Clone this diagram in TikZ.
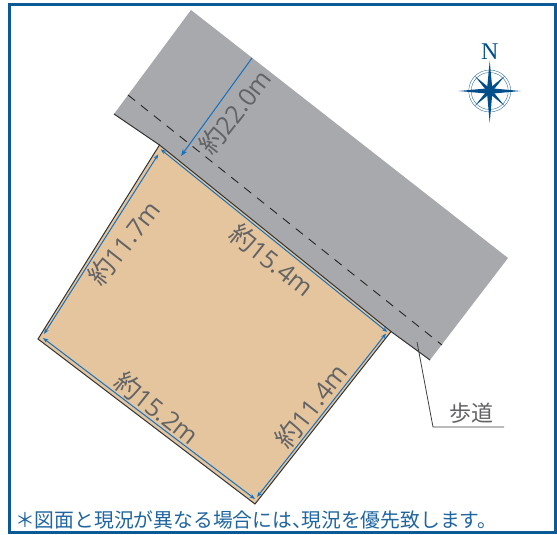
\documentclass[tikz,border=0pt]{standalone}
\usepackage{fontspec}
\setmainfont{Noto Sans CJK JP}
\newfontfamily\nfont{Liberation Serif}
\newfontfamily\latf[Scale=0.96]{Open Sans}
\newcommand{\approxlen}[1]{約{\latf #1}}
\usetikzlibrary{arrows.meta}
\definecolor{frameblue}{HTML}{0B5A96}
\definecolor{notetext}{HTML}{1F65A0}
\definecolor{roadgray}{HTML}{A7A9AC}
\definecolor{lotfill}{HTML}{E4C59D}
\definecolor{dimblue}{HTML}{1470C0}
\definecolor{txtgray}{HTML}{626366}
\definecolor{compass}{HTML}{004F8B}
\tikzset{
  dimline/.style={draw=dimblue,line width=1pt,{Stealth[length=5.5pt,width=4pt]}-{Stealth[length=5.5pt,width=4pt]}},
  dimend/.style={draw=dimblue,line width=1pt,-{Stealth[length=7pt,width=5pt]}},
  dimlabel/.style={text=txtgray,font=\fontsize{26}{26}\selectfont,inner sep=0pt},
  edgeline/.style={draw=black!80,line width=1pt},
}
\begin{document}
\begin{tikzpicture}[x=1pt,y=-1pt]
\useasboundingbox (0,0) rectangle (557,535);
\fill[white] (0,0) rectangle (557,535);
% lot corners
\coordinate (lT) at (159.5,145);
\coordinate (lR) at (391,331.5);
\coordinate (lB) at (255,504);
\coordinate (lL) at (38,339);
% road
\coordinate (rT) at (191,10);
\coordinate (rR) at (508,258);
\coordinate (rB) at (430,360);
\coordinate (rL) at (114,114);
\fill[roadgray] (rT)--(rR)--(rB)--(lR)--(lT)--(rL)--cycle;
\coordinate (dA) at (128,95);
\coordinate (dB) at (442,345);
\draw[black!85,line width=0.9pt,dash pattern=on 9pt off 7.5pt] (dA)--(dB);
% lot
\filldraw[fill=lotfill,edgeline] (lT)--(lR)--(lB)--(lL)--cycle;
\draw[edgeline] (rL)--(lT);
\draw[edgeline] (lR)--(rB);
% dimensions
\coordinate (a1) at (158.3,154.3); \coordinate (a2) at (44,334);
\coordinate (b1) at (43,338);  \coordinate (b2) at (255,499);
\coordinate (c1) at (257,497); \coordinate (c2) at (386,333.5);
\coordinate (d1) at (160.7,149.3); \coordinate (d2) at (387.3,332);
\coordinate (e1) at (252,58);  \coordinate (e2) at (181,156);
\draw[dimline] (a1)--(a2);
\draw[dimline] (b1)--(b2);
\draw[dimline] (c1)--(c2);
\draw[dimline] (d1)--(d2);
\draw[dimend] (e1)--(e2);
\node[dimlabel,rotate=-38.5] (l154) at (272,260) {\approxlen{15.4m}};
\node[dimlabel,rotate=-38.5] (l152) at (157,408) {\approxlen{15.2m}};
\node[dimlabel,rotate=52] (l117) at (124,243) {\approxlen{11.7m}};
\node[dimlabel,rotate=52] (l114) at (311,406) {\approxlen{11.4m}};
\node[dimlabel,rotate=52] (l220) at (235,112) {\approxlen{22.0m}};
% leader
\coordinate (w1) at (417,342);
\coordinate (w2) at (433,427);
\coordinate (w3) at (504,427);
\draw[black!75,line width=0.8pt] (w1)--(w2)--(w3);
\node[text=txtgray,font=\fontsize{22}{22}\selectfont,inner sep=0pt] (hodo) at (471,413) {歩道};
% compass
\begin{scope}[shift={(489.7,91)}]
\draw[compass!80,line width=0.4pt] (0,0) circle (21);
\draw[compass!80,line width=0.4pt] (0,0) circle (18.5);
\fill[compass] (0,-30)--(2.6,-2.6)--(31,0)--(2.6,2.6)--(0,32)--(-2.6,2.6)--(-31,0)--(-2.6,-2.6)--cycle;
\fill[compass] (15,-15)--(2.8,0)--(15,15)--(0,2.8)--(-15,15)--(-2.8,0)--(-15,-15)--(0,-2.8)--cycle;
\fill[compass] (0,0) circle (3.6);
\end{scope}
\node[text=compass,font=\nfont\fontsize{24}{24}\selectfont,inner sep=0pt] (north) at (489.7,52) {N};
% frame
\draw[frameblue,line width=3pt] (9,5) rectangle (555,532.5);
\node[anchor=west,text=notetext,font=\fontsize{19.8}{20}\selectfont,inner sep=0pt] (note) at (15,519.5) {＊図面と現況が異なる場合には、\kern-10.8pt 現況を優先致します。};
\end{tikzpicture}
\end{document}
